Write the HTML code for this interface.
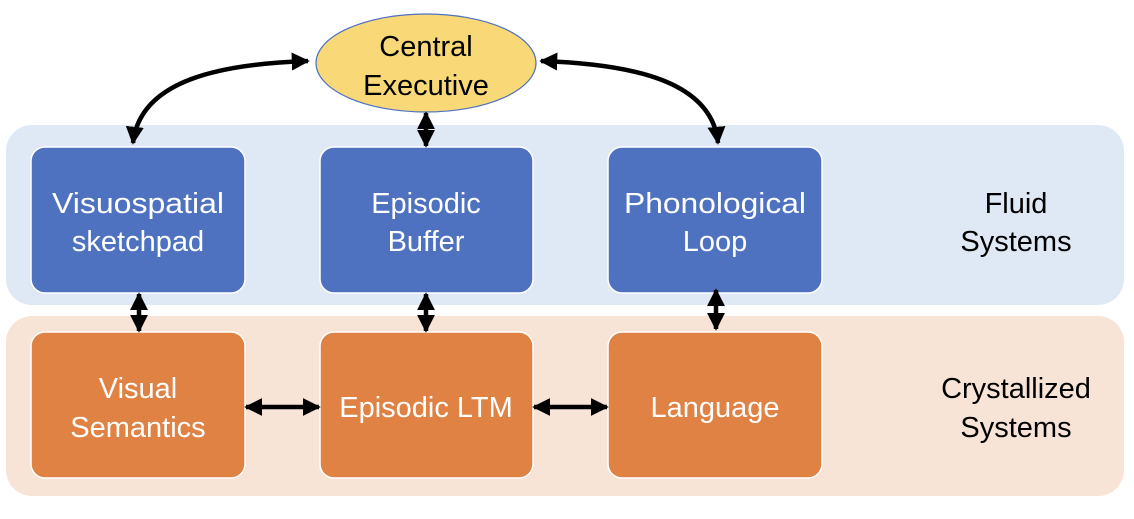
<!DOCTYPE html>
<html><head><style>
body{margin:0;width:1134px;height:514px;background:#fff;overflow:hidden}
</style></head><body>
<svg width="1134" height="514" viewBox="0 0 1134 514" xmlns="http://www.w3.org/2000/svg" font-family="'Liberation Sans', sans-serif">
<defs>
<marker id="ah" viewBox="0 0 10 10" refX="9" refY="5" markerWidth="4" markerHeight="4" orient="auto-start-reverse">
<path d="M0,0 L10,5 L0,10 z" fill="#000"/>
</marker>
</defs>
<rect x="6" y="125" width="1118" height="180" rx="26" fill="#dfe9f5"/>
<rect x="6" y="316" width="1118" height="180" rx="26" fill="#f7e4d7"/>
<g fill="#4f72c0" stroke="#fff" stroke-width="1.5">
<rect x="31" y="147" width="214" height="146" rx="14"/>
<rect x="320" y="147" width="213" height="146" rx="14"/>
<rect x="608" y="147" width="214" height="146" rx="14"/>
</g>
<g fill="#df8244" stroke="#fff" stroke-width="1.5">
<rect x="31" y="332" width="214" height="146" rx="14"/>
<rect x="320" y="332" width="213" height="146" rx="14"/>
<rect x="608" y="332" width="214" height="146" rx="14"/>
</g>
<ellipse cx="426" cy="63" rx="110" ry="49" fill="#f8d877" stroke="#4f72c0" stroke-width="1.2"/>
<g stroke="#000" stroke-width="4.5" fill="none" marker-start="url(#ah)" marker-end="url(#ah)">
<path d="M308,61 C220,64 140,80 133,143"/>
<path d="M541,61 C630,64 712,80 718,143"/>
<line x1="426" y1="113" x2="426" y2="146"/>
<line x1="139" y1="294" x2="139" y2="331"/>
<line x1="426" y1="294" x2="426" y2="331"/>
<line x1="716" y1="290" x2="716" y2="329"/>
<line x1="246" y1="407" x2="319" y2="407"/>
<line x1="534" y1="407" x2="607" y2="407"/>
</g>
<g font-size="29" text-anchor="middle" fill="#fff">
<text x="138" y="213" textLength="172" lengthAdjust="spacingAndGlyphs">Visuospatial</text><text x="138" y="251">sketchpad</text>
<text x="426" y="213">Episodic</text><text x="426" y="251">Buffer</text>
<text x="715" y="213" textLength="182" lengthAdjust="spacingAndGlyphs">Phonological</text><text x="715" y="251">Loop</text>
<text x="138" y="398">Visual</text><text x="138" y="437">Semantics</text>
<text x="426" y="417">Episodic LTM</text>
<text x="715" y="417">Language</text>
</g>
<g font-size="29" text-anchor="middle" fill="#000">
<text x="426" y="56">Central</text><text x="426" y="95">Executive</text>
<text x="1016" y="213">Fluid</text><text x="1016" y="251">Systems</text>
<text x="1016" y="398">Crystallized</text><text x="1016" y="437">Systems</text>
</g>
</svg>
</body></html>
